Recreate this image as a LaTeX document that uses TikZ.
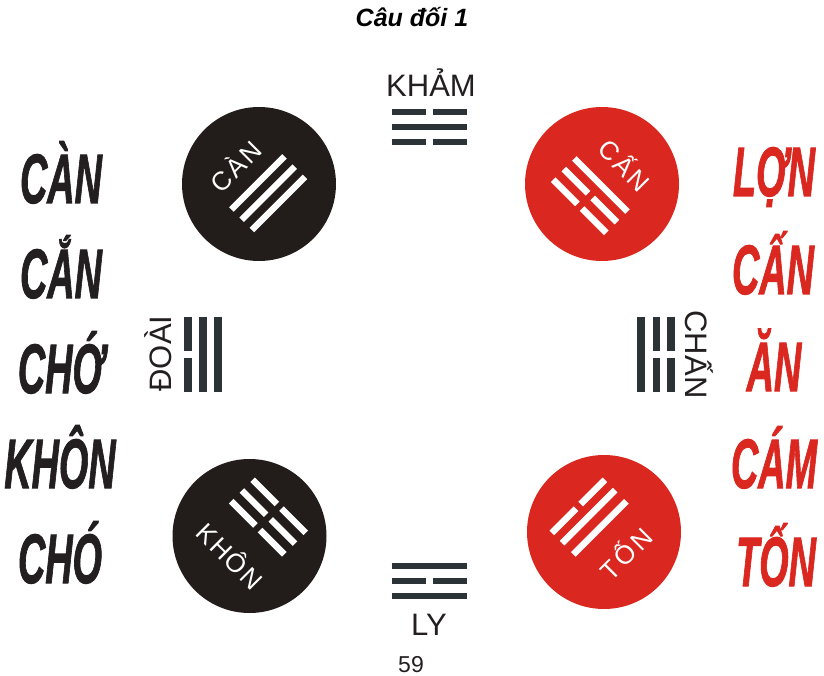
\documentclass[tikz,border=0pt]{standalone}
\usepackage{fontspec}
\usepackage{graphicx}
\setmainfont{Liberation Sans}
\newfontfamily\sidefont{Liberation Sans Bold Italic}[FakeBold=1.6]
\definecolor{cblack}{HTML}{221C1A}
\definecolor{cred}{HTML}{DA2720}
\definecolor{barc}{HTML}{2B3337}
\definecolor{txt}{HTML}{231F20}
\tikzset{
  hbar/.style={draw=barc, line width=6.3pt},
  vbar/.style={draw=barc, line width=7.5pt},
  wbar/.style={draw=white, line width=6.5pt},
  disc/.style={circle, inner sep=0pt, minimum size=154pt},
  ctext/.style={text=white, font=\fontsize{26}{26}\selectfont, inner sep=0pt, text height=18.6pt, text depth=0pt},
  side/.style={anchor=base, inner sep=0pt, font=\fontsize{70}{70}\sidefont},
  lab/.style={anchor=base, inner sep=0pt, text=txt, font=\fontsize{31}{31}\selectfont},
}
\newcommand{\cond}[1]{\scalebox{0.54}[1]{#1}}
\begin{document}
\begin{tikzpicture}[x=1pt, y=-1pt]
\useasboundingbox (0,0) rectangle (824,676);
\fill[white] (0,0) rectangle (824,676);

% title
\node[anchor=base, inner sep=0pt, font=\fontsize{25}{25}\selectfont\bfseries\itshape, text=black] (title) at (412,27) {Câu đối 1};

% KHAM
\node[lab] (kham) at (431,97) {KHẢM};
\draw[hbar] (391.7,112.2) -- (426,112.2);
\draw[hbar] (432.7,112.2) -- (466.7,112.2);
\draw[hbar] (391.7,127.2) -- (466.7,127.2);
\draw[hbar] (391.7,142.2) -- (426,142.2);
\draw[hbar] (432.7,142.2) -- (466.7,142.2);

% LY
\draw[hbar] (391.7,566) -- (466.7,566);
\draw[hbar] (391.7,581) -- (426,581);
\draw[hbar] (432.7,581) -- (466.7,581);
\draw[hbar] (391.7,596) -- (466.7,596);
\node[lab] (ly) at (429,635) {LY};
\node[anchor=base, inner sep=0pt, text=txt, font=\fontsize{23}{23}\selectfont] (page) at (411,672) {59};

% DOAI
\node[lab, rotate=90] (doai) at (171.5,353.5) {ĐOÀI};
\draw[vbar] (187.8,316.7) -- (187.8,350.7);
\draw[vbar] (187.8,358.3) -- (187.8,391.7);
\draw[vbar] (203,316.7) -- (203,391.7);
\draw[vbar] (218,316.7) -- (218,391.7);

% CHAN
\node[lab, rotate=-90] (chan) at (685,354.5) {CHẤN};
\draw[vbar] (641.2,316.7) -- (641.2,391.7);
\draw[vbar] (656.3,316.7) -- (656.3,350.7);
\draw[vbar] (656.3,357.7) -- (656.3,391.7);
\draw[vbar] (671.2,316.7) -- (671.2,350.7);
\draw[vbar] (671.2,357.7) -- (671.2,391.7);

% CAN circle
\node[disc, fill=cblack] (can) at (259,184) {};
\begin{scope}[shift={(259,184)}, rotate=45]
  \draw[wbar] (-37.5,-1.5) -- (37.5,-1.5);
  \draw[wbar] (-37.5,13) -- (37.5,13);
  \draw[wbar] (-37.5,27.5) -- (37.5,27.5);
  \node[ctext, rotate=45] (canT) at (-4,-28.5) {C\kern3pt À\kern3pt N};
\end{scope}

% CAN (red) circle
\node[disc, fill=cred] (cann) at (602,184) {};
\begin{scope}[shift={(602,184)}, rotate=-45]
  \draw[wbar] (-37.5,1.5) -- (37.5,1.5);
  \draw[wbar] (-37.5,16.5) -- (-3.3,16.5);
  \draw[wbar] (3.3,16.5) -- (37.5,16.5);
  \draw[wbar] (-37.5,31.5) -- (-3.3,31.5);
  \draw[wbar] (3.3,31.5) -- (37.5,31.5);
  \node[ctext, rotate=-45] (cannT) at (2.8,-28.5) {C\kern3pt Ấ\kern3pt N};
\end{scope}

% KHON circle
\node[disc, fill=cblack] (khon) at (249.5,536) {};
\begin{scope}[shift={(249.5,536)}, rotate=-45]
  \foreach \b in {-11.6,-26.8,-42} {
    \draw[wbar] (-37.5,\b) -- (-3.3,\b);
    \draw[wbar] (3.3,\b) -- (37.5,\b);
  }
  \node[ctext, rotate=-45] (khonT) at (0.6,28.5) {K\kern2pt H\kern2pt Ô\kern2pt N};
\end{scope}

% TON circle
\node[disc, fill=cred] (ton) at (604,532) {};
\begin{scope}[shift={(604,532)}, rotate=45]
  \draw[wbar] (-37.5,-36.3) -- (-3.3,-36.3);
  \draw[wbar] (3.3,-36.3) -- (37.5,-36.3);
  \draw[wbar] (-37.5,-21.7) -- (37.5,-21.7);
  \draw[wbar] (-37.5,-5.9) -- (37.5,-5.9);
  \node[ctext, rotate=45] (tonT) at (0.4,31.5) {T\kern3pt Ố\kern3pt N};
\end{scope}

% left column
\node[side, text=txt] (l1) at (61,203) {\cond{CÀN}};
\node[side, text=txt] (l2) at (61,298) {\cond{CẮN}};
\node[side, text=txt] (l3) at (61,393) {\cond{CHỚ}};
\node[side, text=txt] (l4) at (60,488) {\cond{KHÔN}};
\node[side, text=txt] (l5) at (60,583) {\cond{CHÓ}};

% right column
\node[side, text=cred] (r1) at (774,196) {\cond{LỢN}};
\node[side, text=cred] (r2) at (773,294) {\cond{CẤN}};
\node[side, text=cred] (r3) at (774,391) {\cond{ĂN}};
\node[side, text=cred] (r4) at (774,488) {\cond{CÁM}};
\node[side, text=cred] (r5) at (776,586) {\cond{TỐN}};
\end{tikzpicture}
\end{document}
